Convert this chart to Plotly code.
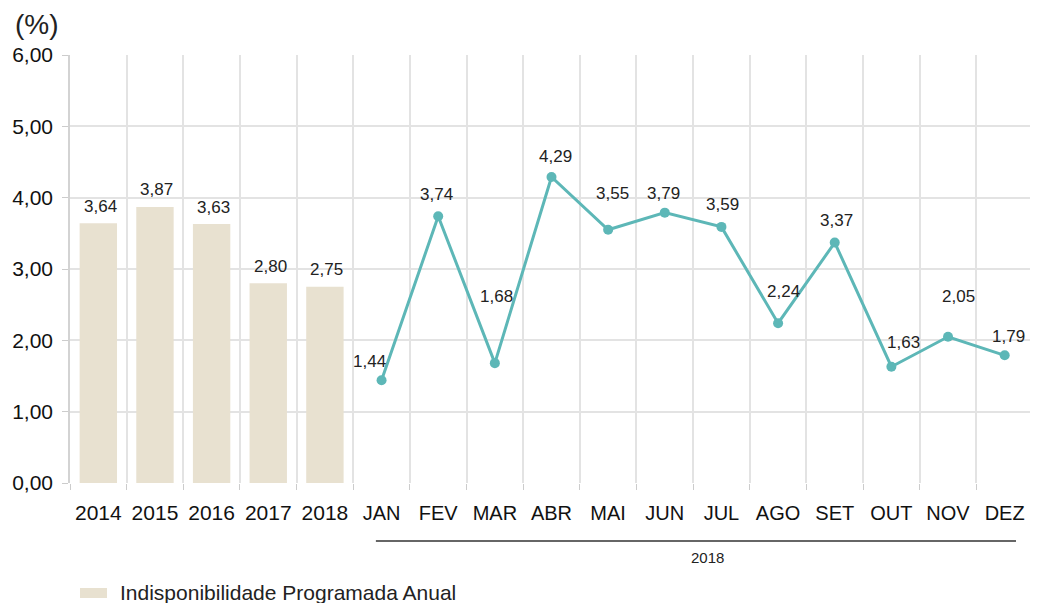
import plotly.graph_objects as go

years = ['2014', '2015', '2016', '2017', '2018']
year_vals = [3.64, 3.87, 3.63, 2.80, 2.75]
months = ['JAN', 'FEV', 'MAR', 'ABR', 'MAI', 'JUN', 'JUL', 'AGO', 'SET', 'OUT', 'NOV', 'DEZ']
month_vals = [1.44, 3.74, 1.68, 4.29, 3.55, 3.79, 3.59, 2.24, 3.37, 1.63, 2.05, 1.79]
legend_name = 'Indisponibilidade Programada Anual'

cats = years + months
# label offsets in px (dx, dy), kept apart from the data
bar_off = [(2, 17)] * 5
month_off = [(-12, 19), (-2, 22), (2, 67), (4, 20), (4, 36), (-1, 19),
             (1, 22), (5, 32), (2, 22), (12, 24), (10, 40), (4, 19)]

FONT = 'Liberation Sans, Arial, sans-serif'
fmt = lambda v: f'{v:.2f}'.replace('.', ',')

# the page body adds an 8px margin, so the figure is shifted to match
W, H = 1030, 595

fig = go.Figure()
fig.add_trace(go.Bar(x=years, y=year_vals, name=legend_name, showlegend=False,
                     marker=dict(color='#E8E1D0', line=dict(width=0)), width=0.66))
fig.add_trace(go.Scatter(x=months, y=month_vals, mode='lines+markers', showlegend=False,
                         line=dict(color='#5DB7B7', width=3),
                         marker=dict(color='#5DB7B7', size=10)))

ann = []
# numeric category index: '2014' would otherwise be read as a number
for i, (v, (dx, dy)) in enumerate(zip(year_vals + month_vals, bar_off + month_off)):
    ann.append(dict(x=i, y=v, xref='x', yref='y', text=fmt(v), showarrow=False,
                    xshift=dx, yshift=dy, font=dict(size=17, color='#222', family=FONT)))

ann.append(dict(x=10.75, y=-0.175, xref='x', yref='paper', text='2018', showarrow=False,
                yanchor='middle', font=dict(size=15, color='#222', family=FONT)))
# legend drawn by hand (wide swatch)
ann.append(dict(x=0.0498, y=-0.2547, xref='paper', yref='paper', text=legend_name,
                showarrow=False, xanchor='left', yanchor='middle',
                font=dict(size=21, color='#222', family=FONT)))

ticktext = [f'<span style="font-size:21px">{c}</span>' for c in years] + \
           [f'<span style="font-size:20px">{c}</span>' for c in months]

fig.update_layout(
    width=W, height=H,
    margin=dict(l=62, r=5, t=47, b=120, autoexpand=False),
    plot_bgcolor='white', paper_bgcolor='white',
    separators=',.',
    font=dict(family=FONT, color='#222'),
    title=dict(text='(%)', xref='container', x=7 / W, xanchor='left',
               yref='container', y=1 - 16 / H, yanchor='middle',
               font=dict(size=28, color='#222', family=FONT)),
    showlegend=False,
    annotations=ann,
    shapes=[dict(type='line', xref='x', yref='paper', x0=4.9, x1=16.2, y0=-0.1355, y1=-0.1355,
                 line=dict(color='#333', width=1.5)),
            dict(type='rect', xref='paper', yref='paper', x0=0.0104, x1=0.0384,
                 y0=-0.2687, y1=-0.2453, fillcolor='#E8E1D0', line=dict(width=0))],
)
fig.update_xaxes(type='category', categoryorder='array', categoryarray=cats,
                 tickmode='array', tickvals=cats, ticktext=ticktext, automargin=False,
                 range=[-0.5, 16.5], tickson='boundaries', ticks='outside', ticklen=6,
                 tickcolor='#CCCCCC', showgrid=True, gridcolor='#E3E3E3', gridwidth=1.5,
                 ticklabelstandoff=16, tickfont=dict(size=20, color='#111'))
fig.update_yaxes(range=[0, 6], dtick=1, tickformat='.2f', ticks='outside', ticklen=6,
                 tickcolor='#CCCCCC', showgrid=True, gridcolor='#E3E3E3', gridwidth=1.5,
                 showline=True, linecolor='#D3D3D3', linewidth=1.5, zeroline=False,
                 automargin=False, ticklabelstandoff=5, tickfont=dict(size=21, color='#111'))

fig.write_html('out.html')
